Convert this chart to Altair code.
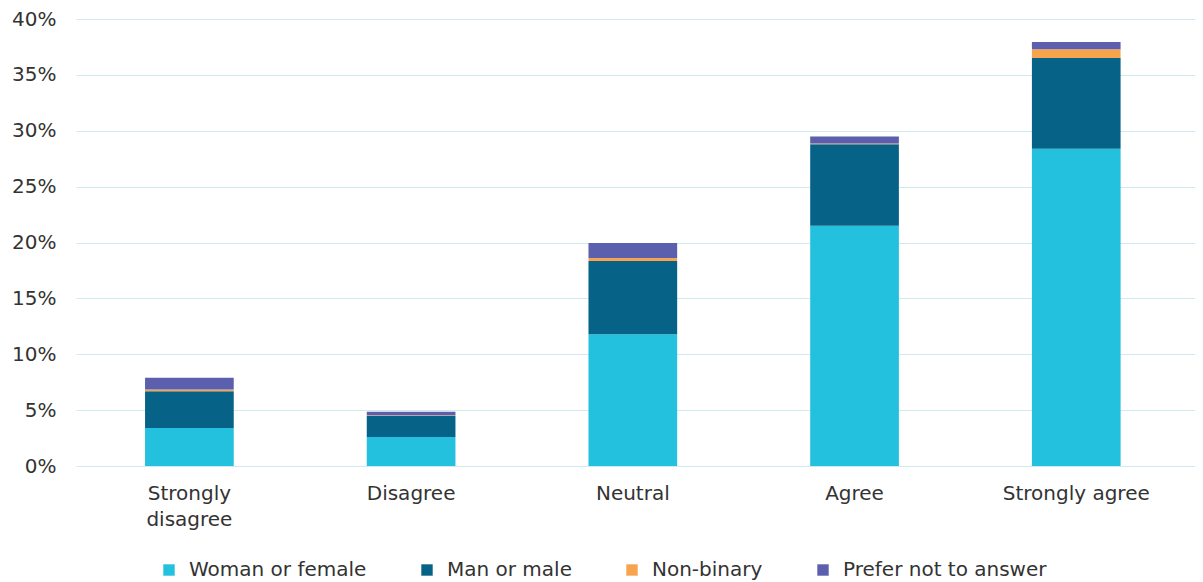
import altair as alt
import pandas as pd

categories = ["Strongly disagree", "Disagree", "Neutral", "Agree", "Strongly agree"]
series = ["Woman or female", "Man or male", "Non-binary", "Prefer not to answer"]
colors = ["#23c1de", "#066286", "#f7a44f", "#5b5fad"]

woman = [3.4, 2.6, 11.8, 21.5, 28.4]
man = [3.3, 1.9, 6.55, 7.3, 8.1]
nonbinary = [0.15, 0.05, 0.27, 0.05, 0.8]
prefer = [1.05, 0.3, 1.33, 0.64, 0.65]

values = [woman, man, nonbinary, prefer]
rows = []
for si, s in enumerate(series):
    for ci, c in enumerate(categories):
        rows.append({"category": c, "series": s, "idx": si, "value": values[si][ci] / 100})
df = pd.DataFrame(rows)

FONT = "DejaVu Sans"
TXT = "#333333"

chart = alt.Chart(df).mark_bar().encode(
    x=alt.X("category:N", sort=categories, title=None,
            scale=alt.Scale(paddingInner=0.6, paddingOuter=0.319, align=0.474, round=False),
            axis=alt.Axis(labelAngle=0, domain=False, ticks=False, labelPadding=17,
                          labelFontSize=20, labelColor=TXT, labelFont=FONT,
                          labelLineHeight=26,
                          labelExpr="datum.value == 'Strongly disagree' ? ['Strongly', 'disagree'] : datum.label")),
    y=alt.Y("value:Q", stack="zero", title=None,
            scale=alt.Scale(domain=[0, 0.4], nice=False),
            axis=alt.Axis(format=".0%", values=[0, 0.05, 0.1, 0.15, 0.2, 0.25, 0.3, 0.35, 0.4],
                          domain=False, ticks=True, tickSize=2, tickColor="#cfeaf0",
                          gridColor="#cfeaf0", gridWidth=1.2, labelPadding=20,
                          labelFontSize=20, labelColor=TXT, labelFont=FONT)),
    color=alt.Color("series:N", sort=series,
                    scale=alt.Scale(domain=series, range=colors),
                    legend=alt.Legend(title=None, orient="none", direction="horizontal",
                                      legendX=81, legendY=541, symbolType="square",
                                      symbolSize=130, symbolStrokeWidth=0, labelFontSize=20,
                                      labelFont=FONT, labelColor=TXT, columnPadding=50,
                                      labelOffset=10, labelLimit=0)),
    order=alt.Order("idx:Q", sort="ascending"),
).properties(
    width=1117, height=447,
    autosize=alt.AutoSizeParams(type="none"),
    padding={"left": 70, "top": 11, "right": 0, "bottom": 116},
).configure_view(stroke=None)

chart.save("out.html", embed_options={"renderer": "svg", "actions": False})
